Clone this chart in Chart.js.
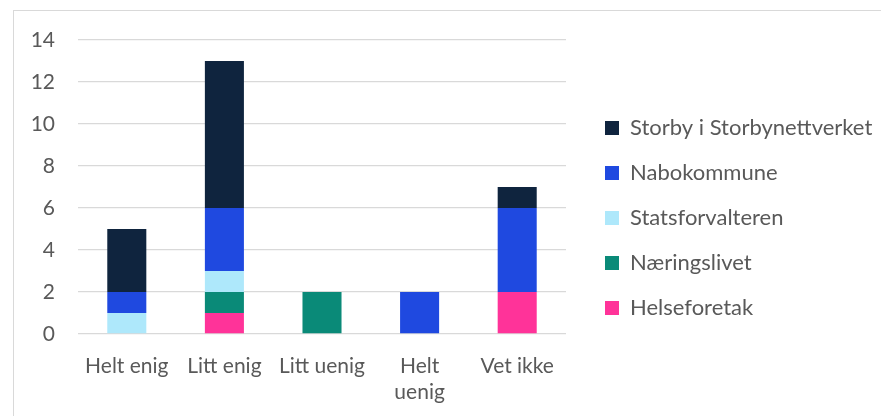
<!DOCTYPE html>
<html>
<head>
<meta charset="utf-8">
<script src="https://cdn.jsdelivr.net/npm/chart.js@4.4.0/dist/chart.umd.min.js"></script>
<style>
  html, body { margin: 0; padding: 0; background: #fff; }
  #wrap { position: relative; width: 881px; height: 416px; overflow: hidden; }
  #frame { position: absolute; left: 13px; top: 10px; width: 900px; height: 450px; border: 1.5px solid #d9d9d9; box-sizing: border-box; }
  #c { position: absolute; left: 0; top: 0; }
</style>
</head>
<body>
<div id="wrap">
  <div id="frame"></div>
  <canvas id="c" width="881" height="416"></canvas>
</div>
<script>
const categories = ["Helt enig", "Litt enig", "Litt uenig", ["Helt", "uenig"], "Vet ikke"];
const seriesNames = ["Helseforetak", "Næringslivet", "Statsforvalteren", "Nabokommune", "Storby i Storbynettverket"];
const helseforetak = [0, 1, 0, 0, 2];
const naeringslivet = [0, 1, 2, 0, 0];
const statsforvalteren = [1, 1, 0, 0, 0];
const nabokommune = [1, 3, 0, 2, 4];
const storby = [3, 7, 0, 0, 1];
const seriesColors = ["#FF3399", "#0A8A78", "#AEE8FB", "#1F49E0", "#0F243E"];
const yTicks = [0, 2, 4, 6, 8, 10, 12, 14];

const seriesValues = [helseforetak, naeringslivet, statsforvalteren, nabokommune, storby];
const FONT = "Lato";
const TXT = "#595959";

const datasets = seriesNames.map((name, i) => ({
  label: name,
  data: seriesValues[i],
  backgroundColor: seriesColors[i],
  borderWidth: 0,
  barPercentage: 0.4,
  categoryPercentage: 1.0
}));

new Chart(document.getElementById("c"), {
  type: "bar",
  data: { labels: categories, datasets },
  options: {
    responsive: false,
    animation: false,
    devicePixelRatio: 1,
    layout: { padding: { left: 0, right: 0, top: 20, bottom: 0 } },
    plugins: {
      tooltip: { enabled: false },
      legend: {
        position: "right",
        align: "center",
        maxWidth: 299,
        reverse: true,
        labels: {
          boxWidth: 14,
          boxHeight: 14,
          padding: 23,
          color: TXT,
          font: { family: FONT, size: 22 }
        }
      }
    },
    scales: {
      x: {
        stacked: true,
        grid: { display: false, drawTicks: false },
        border: { display: false },
        ticks: { color: TXT, font: { family: FONT, size: 21 }, padding: 20, maxRotation: 0, autoSkip: false },
        afterFit: (s) => { s.height = 82; }
      },
      xTop: {
        type: "category",
        position: "top",
        display: true,
        grid: { display: false, drawTicks: false },
        border: { display: false },
        ticks: { display: false },
        afterFit: (s) => { s.height = 20; }
      },
      y: {
        stacked: true,
        min: 0,
        max: 14,
        afterBuildTicks: (s) => { s.ticks = yTicks.map(v => ({ value: v })); },
        grid: { color: "#d9d9d9", lineWidth: 1.3, drawTicks: false },
        border: { display: false },
        ticks: { color: TXT, font: { family: FONT, size: 21 }, padding: 23 },
        afterFit: (s) => { s.width = 78; }
      },
      y2: {
        position: "right",
        display: true,
        grid: { display: false, drawTicks: false },
        border: { display: false },
        ticks: { display: false },
        afterFit: (s) => { s.width = 16; }
      }
    }
  }
});
</script>
</body>
</html>
